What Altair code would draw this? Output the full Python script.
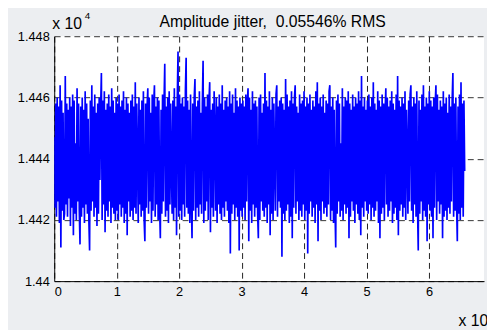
import altair as alt
import pandas as pd

# Amplitude samples, one array per x-unit (x 10^?)
seg0 = [14447, 14424, 14458, 14421, 14460, 14426, 14457, 14419, 14464, 14411,
        14459, 14423, 14455, 14420, 14422, 14467, 14425, 14458, 14421, 14456,
        14427, 14460, 14418, 14457, 14424, 14461, 14415, 14459, 14422, 14445,
        14420, 14463, 14426, 14458, 14423, 14412, 14457, 14421, 14460, 14424,
        14456, 14419, 14462, 14425, 14458, 14422, 14453, 14420, 14410, 14459,
        14423, 14464, 14426, 14457, 14421, 14461, 14424, 14455, 14418, 14458,
        14422, 14460, 14433, 14457, 14468, 14420, 14459, 14425, 14462, 14416,
        14456, 14423, 14458, 14421, 14461, 14426, 14457, 14419, 14463, 14424,
        14459, 14422, 14455, 14420, 14460]
seg1 = [14423, 14458, 14420, 14461, 14425, 14457, 14421, 14459, 14424, 14462,
        14419, 14456, 14422, 14460, 14415, 14458, 14426, 14455, 14421, 14459,
        14423, 14461, 14420, 14457, 14424, 14465, 14422, 14458, 14441, 14419,
        14460, 14425, 14456, 14421, 14459, 14423, 14462, 14420, 14413, 14458,
        14424, 14457, 14463, 14422, 14460, 14426, 14455, 14419, 14461, 14423,
        14458, 14464, 14421, 14457, 14425, 14460, 14420, 14459, 14424, 14414,
        14456, 14422, 14461, 14426, 14458, 14471, 14421, 14457, 14423, 14460,
        14419, 14462, 14425, 14458, 14437, 14422, 14459, 14420, 14463, 14424,
        14457, 14415, 14460, 14475, 14421]
seg2 = [14461, 14423, 14458, 14420, 14460, 14425, 14457, 14421, 14462, 14473,
        14424, 14459, 14422, 14456, 14419, 14461, 14426, 14414, 14458, 14423,
        14460, 14466, 14420, 14457, 14424, 14459, 14421, 14462, 14425, 14455,
        14422, 14458, 14472, 14419, 14460, 14423, 14457, 14426, 14461, 14420,
        14459, 14465, 14416, 14456, 14424, 14458, 14421, 14462, 14448, 14423,
        14460, 14419, 14457, 14425, 14461, 14422, 14458, 14420, 14464, 14424,
        14456, 14421, 14459, 14426, 14460, 14423, 14457, 14419, 14462, 14409,
        14458, 14422, 14461, 14425, 14455, 14420, 14463, 14424, 14459, 14421,
        14457, 14410, 14460, 14423, 14458]
seg3 = [14421, 14459, 14424, 14457, 14420, 14461, 14426, 14458, 14463, 14413,
        14460, 14423, 14456, 14419, 14462, 14425, 14458, 14421, 14459, 14424,
        14457, 14422, 14414, 14460, 14420, 14461, 14426, 14455, 14423, 14458,
        14421, 14468, 14424, 14459, 14419, 14457, 14425, 14462, 14415, 14456,
        14422, 14460, 14420, 14458, 14439, 14423, 14461, 14464, 14421, 14457,
        14426, 14459, 14424, 14460, 14408, 14458, 14422, 14456, 14420, 14466,
        14423, 14461, 14425, 14457, 14419, 14459, 14421, 14462, 14414, 14458,
        14424, 14460, 14464, 14422, 14457, 14426, 14455, 14420, 14461, 14423,
        14458, 14421, 14459, 14425, 14462]
seg4 = [14420, 14457, 14423, 14460, 14409, 14458, 14422, 14461, 14426, 14456,
        14421, 14459, 14424, 14457, 14419, 14462, 14425, 14465, 14413, 14458,
        14423, 14460, 14420, 14457, 14426, 14461, 14422, 14455, 14424, 14459,
        14421, 14458, 14425, 14462, 14464, 14420, 14457, 14423, 14460, 14419,
        14456, 14424, 14411, 14459, 14422, 14461, 14426, 14458, 14421, 14445,
        14423, 14463, 14420, 14457, 14425, 14460, 14422, 14459, 14424, 14462,
        14414, 14458, 14421, 14456, 14426, 14461, 14423, 14457, 14419, 14460,
        14425, 14458, 14422, 14462, 14420, 14459, 14415, 14467, 14424, 14457,
        14421, 14460, 14426, 14456, 14423]
seg5 = [14459, 14422, 14461, 14425, 14457, 14420, 14460, 14424, 14465, 14421,
        14458, 14423, 14456, 14426, 14462, 14419, 14459, 14414, 14457, 14422,
        14461, 14424, 14458, 14420, 14455, 14463, 14425, 14460, 14421, 14457,
        14423, 14459, 14426, 14462, 14419, 14458, 14422, 14456, 14424, 14461,
        14420, 14467, 14415, 14459, 14423, 14457, 14425, 14460, 14421, 14458,
        14424, 14462, 14420, 14456, 14442, 14422, 14459, 14426, 14461, 14464,
        14423, 14457, 14419, 14460, 14425, 14458, 14421, 14462, 14424, 14410,
        14459, 14422, 14456, 14426, 14461, 14420, 14464, 14423, 14457, 14421,
        14460, 14413, 14458, 14425, 14462]
seg6 = [14423, 14459, 14421, 14457, 14414, 14460, 14424, 14458, 14464, 14420,
        14461, 14426, 14456, 14422, 14459, 14425, 14457, 14414, 14462, 14421,
        14458, 14423, 14460, 14420, 14455, 14424, 14461, 14422, 14457, 14426,
        14459, 14468, 14421, 14458, 14423, 14460, 14425, 14413, 14457, 14422,
        14461, 14420, 14465, 14424, 14458, 14421, 14459, 14436]

amplitude = seg0 + seg1 + seg2 + seg3 + seg4 + seg5 + seg6
x_last = 6.57          # last sample position on the x axis
x_max = 6.88           # visible x range (right edge is cropped)
x_ticks = [0, 1, 2, 3, 4, 5, 6]
y_ticks = [14400, 14420, 14440, 14460, 14480]
title_text = "Amplitude jitter,\u00a0 0.05546% RMS"

n = len(amplitude)
df = pd.DataFrame({
    "i": list(range(n)),
    "t": [k * x_last / (n - 1) for k in range(n)],
    "a": amplitude,
})

FONT = "Liberation Sans"

line = alt.Chart(df).mark_line(color="#0000ff", strokeWidth=1.7, clip=True).encode(
    x=alt.X("t:Q",
            scale=alt.Scale(domain=[0, x_max], nice=False, zero=False),
            axis=alt.Axis(values=x_ticks, format="d", grid=True, gridDash=[6, 4],
                          gridColor="#222222", gridOpacity=1, gridWidth=1,
                          ticks=False, labelPadding=5, domainColor="black",
                          domainWidth=1, title=None, labelFontSize=13,
                          labelFont=FONT, labelColor="black")),
    y=alt.Y("a:Q",
            scale=alt.Scale(domain=[14400, 14480], nice=False, zero=False),
            axis=alt.Axis(values=y_ticks,
                          labelExpr="format(datum.value / 10000, '.4~f')",
                          grid=True, gridDash=[6, 4], gridColor="#333333",
                          gridOpacity=1, gridWidth=1, ticks=False, labelPadding=5,
                          domainColor="black", domainWidth=1, title=None,
                          labelFontSize=13, labelFont=FONT, labelColor="black")),
    order="i:Q",
)


def label(txt, size, x, y, align="left"):
    return alt.Chart(pd.DataFrame({"txt": [txt]})).mark_text(
        align=align, baseline="alphabetic", fontSize=size, font=FONT,
        color="black").encode(x=alt.value(x), y=alt.value(y), text="txt:N")


title = label(title_text, 16, 222, -9, align="center")
y_mult = label("x 10", 16, -2, -7)
y_exp = label("4", 10, 31, -17)
x_mult = label("x 10", 16, 411, 295)

chart = alt.layer(line, title, y_mult, y_exp, x_mult).properties(
    width=437, height=249,
    autosize=alt.AutoSizeParams(type="none"),
    padding={"left": 47, "top": 26, "right": 3, "bottom": 47},
    background="#eceef1",
).configure_view(fill="white", stroke=None)

chart.save("out.html", embed_options={"renderer": "svg", "actions": False})
